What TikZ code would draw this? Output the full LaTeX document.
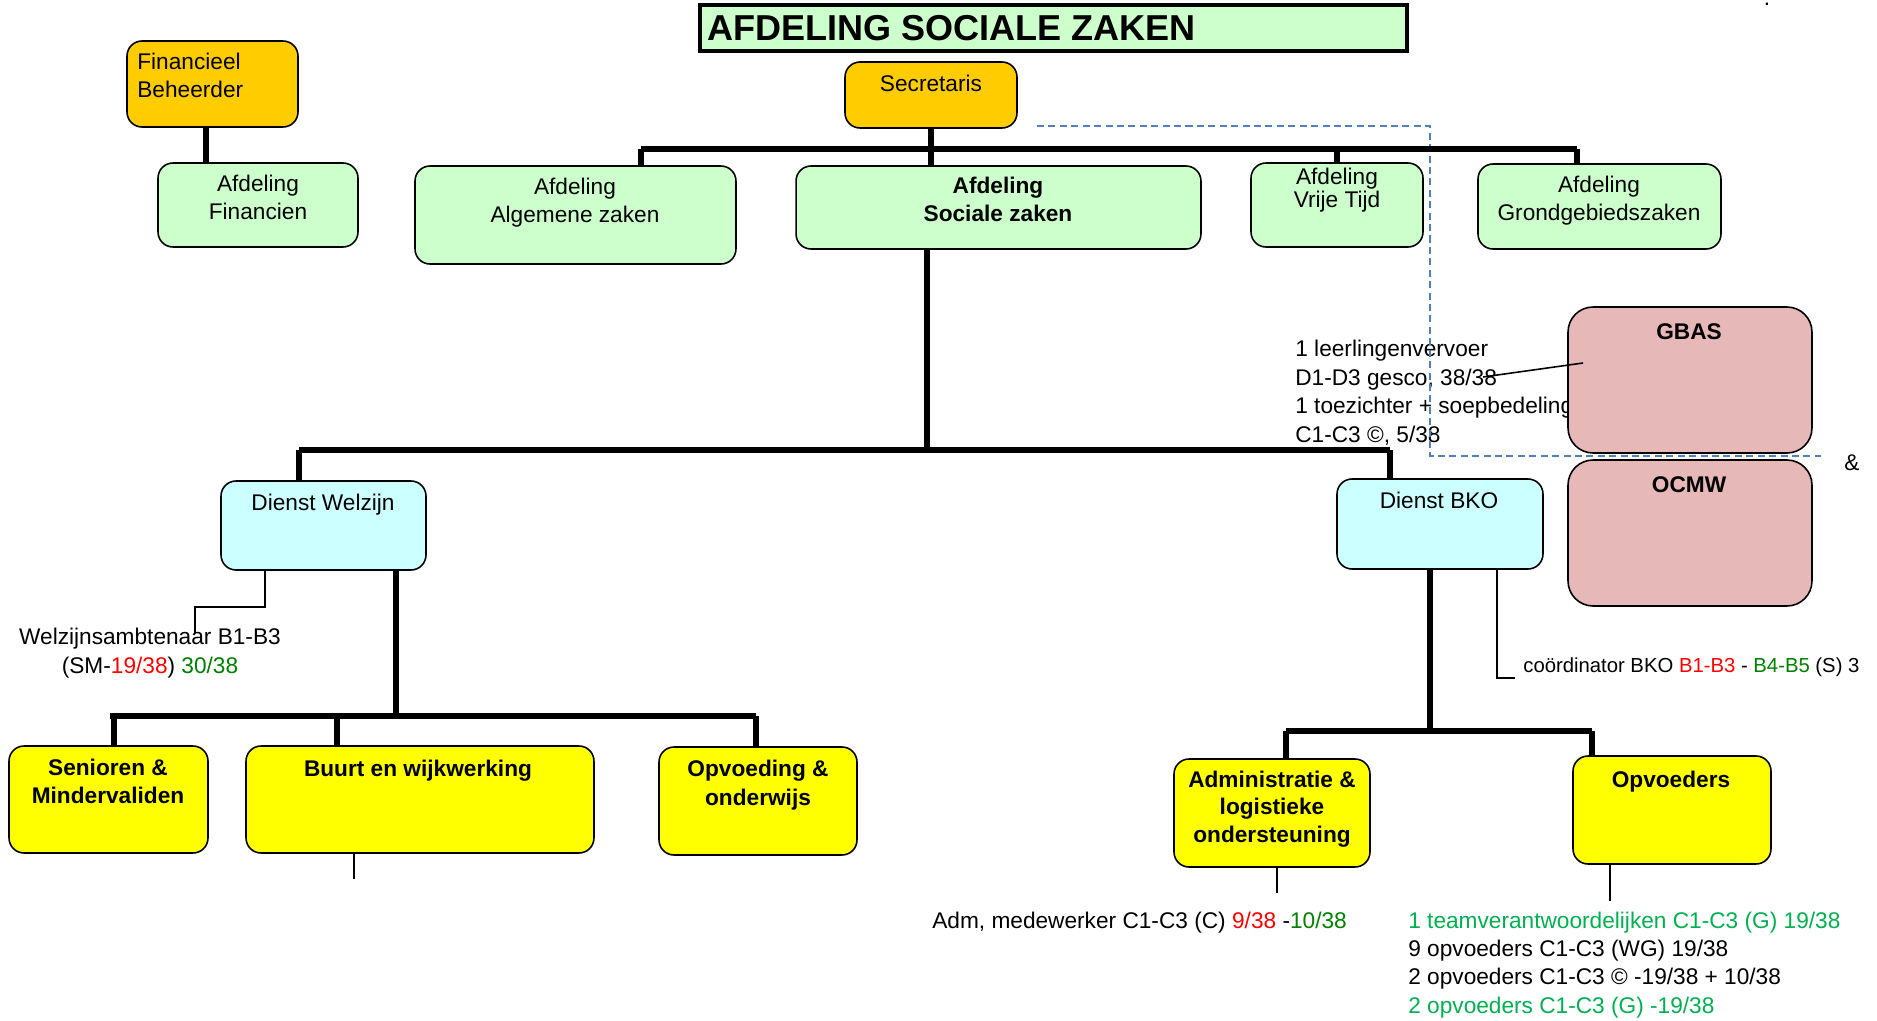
\documentclass[tikz,border=0pt]{standalone}
\usepackage{fontspec}
\setmainfont{Liberation Sans}
\usepackage{tikz}
\usetikzlibrary{positioning}

\definecolor{oranje}{HTML}{FFCC00}
\definecolor{lgroen}{HTML}{CCFFCC}
\definecolor{lcyaan}{HTML}{CCFFFF}
\definecolor{geel}{HTML}{FFFF00}
\definecolor{roze}{HTML}{E6B8B7}
\definecolor{dgroen}{HTML}{008000}
\definecolor{mgroen}{HTML}{00B050}
\definecolor{stippel}{HTML}{4F81BD}

\tikzset{
    box/.style={draw, line width=0.9pt, rounded corners=0.3cm, inner sep=0pt},
    chief/.style={box, fill=oranje},
    afd/.style={box, fill=lgroen},
    dienst/.style={box, fill=lcyaan},
    team/.style={box, fill=geel},
    extern/.style={box, fill=roze, rounded corners=0.5cm},
    txt/.style={anchor=base, inner sep=0pt, align=center, font=\fontsize{12.9}{15.4}\selectfont},
    btxt/.style={txt, font=\fontsize{12.9}{15.4}\selectfont\bfseries},
    bar/.style={line width=3.3pt},
    drop/.style={line width=3pt},
    fine/.style={line width=0.9pt},
    stippellijn/.style={draw=stippel, line width=0.8pt, dash pattern=on 4pt off 2.5pt}
}

\begin{document}
\begin{tikzpicture}[x=0.02cm, y=-0.02cm]
    \useasboundingbox (0,0) rectangle (1877,1021);

    % titel
    \node[draw, line width=1.8pt, fill=lgroen, inner sep=0pt, minimum width=14.14cm, minimum height=0.92cm] (title) at (1053.5,28) {};
    \node[anchor=base west, inner sep=0pt, font=\fontsize{20.5}{24}\selectfont\bfseries] (titletxt) at (707,40) {AFDELING SOCIALE ZAKEN};
    \node[txt] (punt) at (1767,6) {.};

    % afdelingen
    \node[chief, minimum width=3.42cm, minimum height=1.72cm] (finb) at (212.5,84) {};
    \node[txt, anchor=base west, align=left] (finbt) at (137,97) {Financieel\\Beheerder};
    \node[afd, minimum width=4cm, minimum height=1.68cm] (finaf) at (258,205) {};
    \node[txt] (finaft) at (258,219) {Afdeling\\Financien};
    \node[chief, minimum width=3.44cm, minimum height=1.32cm] (secr) at (931,95) {};
    \node[txt] (secrt) at (931,91) {Secretaris};
    \node[afd, minimum width=6.42cm, minimum height=1.96cm] (alg) at (575.5,215) {};
    \node[txt] (algt) at (575,222) {Afdeling\\Algemene zaken};
    \node[afd, minimum width=8.1cm, minimum height=1.66cm] (soc) at (998.5,207.5) {};
    \node[btxt] (soct) at (998,221) {Afdeling\\Sociale zaken};
    \node[afd, minimum width=3.44cm, minimum height=1.68cm] (vrij) at (1337,205) {};
    \node[txt, font=\fontsize{12.9}{11.4}\selectfont] (vrijt) at (1337,207) {Afdeling\\Vrije Tijd};
    \node[afd, minimum width=4.86cm, minimum height=1.7cm] (grond) at (1599.5,206.5) {};
    \node[txt] (grondt) at (1599,220) {Afdeling\\Grondgebiedszaken};

    % tekst bij GBAS
    \node[txt, anchor=base west, align=left, font=\fontsize{12.9}{16.2}\selectfont] (vervoer) at (1295,442) {1 leerlingenvervoer\\D1-D3 gesco, 38/38\\1 toezichter + soepbedeling\\C1-C3 ©, 5/38};
    \coordinate (da) at (1037,126);
    \coordinate (db) at (1430,126);
    \coordinate (dc) at (1430,456);
    \coordinate (dd) at (1821,456);
    \draw[stippellijn] (da) -- (db) -- (dc) -- (dd);

    \node[extern, minimum width=4.88cm, minimum height=2.92cm] (gbas) at (1690,380) {};
    \node[btxt] (gbast) at (1689,339) {GBAS};
    \node[extern, minimum width=4.88cm, minimum height=2.92cm] (ocmw) at (1690,533) {};
    \node[btxt] (ocmwt) at (1689,492) {OCMW};
    \node[txt, anchor=base west] (amp) at (1844,470) {\&};

    % diensten
    \node[dienst, minimum width=4.1cm, minimum height=1.78cm] (welz) at (323.5,525.5) {};
    \node[txt] (welzt) at (323,510) {Dienst Welzijn};
    \node[dienst, minimum width=4.12cm, minimum height=1.8cm] (bko) at (1440,524) {};
    \node[txt] (bkot) at (1439,508) {Dienst BKO};
    \node[txt, font=\fontsize{12.9}{16.5}\selectfont] (welzamb) at (150,673) {Welzijnsambtenaar B1-B3\\(SM-\textcolor{red}{19/38}) \textcolor{dgroen}{30/38}};
    \node[txt, anchor=base west, font=\fontsize{11.55}{14}\selectfont] (coord) at (1523,672) {coördinator BKO \textcolor{red}{B1-B3} - \textcolor{dgroen}{B4-B5} (S) 3};

    % teams
    \node[team, minimum width=3.98cm, minimum height=2.14cm] (sen) at (108.5,799.5) {};
    \node[btxt] (sent) at (108,803) {Senioren \&\\Mindervaliden};
    \node[team, minimum width=6.96cm, minimum height=2.14cm] (buurt) at (420,799.5) {};
    \node[btxt] (buurtt) at (418,776) {Buurt en wijkwerking};
    \node[team, minimum width=3.96cm, minimum height=2.16cm] (opv) at (758,801) {};
    \node[btxt, font=\fontsize{12.9}{16}\selectfont\bfseries] (opvt) at (758,805) {Opvoeding \&\\onderwijs};
    \node[team, minimum width=3.92cm, minimum height=2.16cm] (adm) at (1272,813) {};
    \node[btxt] (admt) at (1272,842) {Administratie \&\\logistieke\\ondersteuning};
    \node[team, minimum width=3.96cm, minimum height=2.16cm] (opvd) at (1672,810) {};
    \node[btxt] (opvdt) at (1671,787) {Opvoeders};

    \node[txt, anchor=base west] (admw) at (932,928) {Adm, medewerker C1-C3 (C) \textcolor{red}{9/38} -\textcolor{dgroen}{10/38}};
    \node[txt, anchor=base west, align=left, font=\fontsize{12.9}{16}\selectfont] (opvlijst) at (1408,1013) {\textcolor{mgroen}{1 teamverantwoordelijken C1-C3 (G) 19/38}\\9 opvoeders C1-C3 (WG) 19/38\\2 opvoeders C1-C3 © -19/38 + 10/38\\\textcolor{mgroen}{2 opvoeders C1-C3 (G) -19/38}};

    % lijnen boven
    \coordinate (f1) at (206,127);
    \draw[drop] (f1) -- (f1 |- finaf.north);
    \coordinate (t1) at (641,149);
    \coordinate (t2) at (1577,149);
    \draw[bar] (t1) -- (t2);
    \draw[drop] (t1) -- (t1 |- alg.north);
    \draw[drop] (secr.south) -- (secr.south |- soc.north);
    \draw[drop] (vrij.north) -- (vrij.north |- t1);
    \draw[drop] (t2) -- (t2 |- grond.north);

    % lijnen midden
    \coordinate (m1) at (299,450);
    \coordinate (m2) at (1390,450);
    \coordinate (mv) at (927,450);
    \draw[drop] (mv |- soc.south) -- (mv);
    \draw[bar] (m1) -- (m2);
    \draw[drop] (m1) -- (m1 |- welz.north);
    \draw[drop] (m2) -- (m2 |- bko.north);

    % lijnen welzijn
    \coordinate (w1) at (110,716);
    \coordinate (w2) at (756,716);
    \coordinate (wv) at (396,716);
    \coordinate (s1) at (114,716);
    \coordinate (s2) at (337,716);
    \draw[drop] (wv |- welz.south) -- (wv);
    \draw[bar] (w1) -- (w2);
    \draw[drop] (s1) -- (s1 |- sen.north);
    \draw[drop] (s2) -- (s2 |- buurt.north);
    \draw[drop] (w2) -- (w2 |- opv.north);

    % lijnen BKO
    \coordinate (b1) at (1286,731);
    \coordinate (b2) at (1592,731);
    \coordinate (bv) at (1430,731);
    \draw[drop] (bv |- bko.south) -- (bv);
    \draw[bar] (b1) -- (b2);
    \draw[drop] (b1) -- (b1 |- adm.north);
    \draw[drop] (b2) -- (b2 |- opvd.north);

    % dunne lijnen
    \coordinate (ka) at (265,607);
    \coordinate (kb) at (195,633);
    \draw[fine] (ka |- welz.south) -- (ka) -| (kb);
    \coordinate (kc) at (1497,678);
    \coordinate (kd) at (1515,678);
    \draw[fine] (kc |- bko.south) -- (kc) -- (kd);
    \coordinate (ke) at (354,879);
    \draw[fine] (ke |- buurt.south) -- (ke);
    \coordinate (kf) at (1277,893);
    \draw[fine] (kf |- adm.south) -- (kf);
    \coordinate (kg) at (1610,901);
    \draw[fine] (kg |- opvd.south) -- (kg);
    \coordinate (kh) at (1583,363);
    \coordinate (ki) at (1483,377);
    \draw[fine] (kh) -- (ki);
\end{tikzpicture}
\end{document}
